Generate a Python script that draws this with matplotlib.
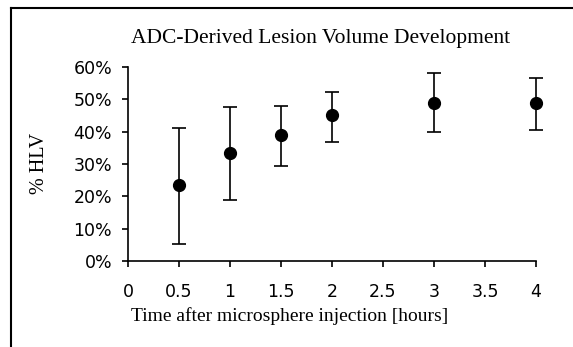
#importing required libraries
import matplotlib
matplotlib.use('Agg')
import matplotlib.pyplot as plt
from matplotlib.lines import Line2D
from matplotlib.ticker import FuncFormatter

plt.rcParams['font.family'] = ['Liberation Serif', 'DejaVu Serif']

#values
hours = [0.5, 1.0, 1.5, 2.0, 3.0, 4.0]
hlv_mean = [23.5, 33.4, 39.0, 45.3, 48.9, 48.9]
err_upper = [41.1, 47.5, 48.0, 52.4, 58.0, 56.6]
err_lower = [5.2, 18.9, 29.3, 36.9, 40.0, 40.6]
x_ticks = [0, 0.5, 1, 1.5, 2, 2.5, 3, 3.5, 4]
y_ticks = [0, 10, 20, 30, 40, 50, 60]

yerr = [[m - lo for m, lo in zip(hlv_mean, err_lower)],
        [hi - m for m, hi in zip(hlv_mean, err_upper)]]

W, H = 573, 347
fig = plt.figure(figsize=(W/100, H/100), dpi=100)
ax = fig.add_axes([128/W, 1 - 261/H, 408/W, 194/H])

#plotting the points with their error bars
eb = ax.errorbar(hours, hlv_mean, yerr=yerr, fmt='o', color='black',
                 markersize=8.5, ecolor='black', elinewidth=1.2,
                 capsize=4.8, capthick=1.2)
for art in ax.get_children():
    art.set_clip_on(False)

#axes setup
ax.set_xlim(0, 4)
ax.set_ylim(0, 60)
ax.set_xticks(x_ticks)
ax.set_xticklabels(['0', '0.5', '1', '1.5', '2', '2.5', '3', '3.5', '4'])
ax.set_yticks(y_ticks)
ax.yaxis.set_major_formatter(FuncFormatter(lambda v, p: '%d%%' % v))
for s in ['top', 'right']:
    ax.spines[s].set_visible(False)
for s in ['left', 'bottom']:
    ax.spines[s].set_linewidth(1.2)
    ax.spines[s].set_clip_on(False)
ax.tick_params(direction='out', length=4.5, width=1.2, labelsize=12.5)
ax.tick_params(axis='x', pad=11)
ax.tick_params(axis='y', pad=7)
for lbl in ax.get_xticklabels() + ax.get_yticklabels():
    lbl.set_family('DejaVu Sans')

#axis titles and chart title placed as in the reference
fig.text(290/W, 1 - 316/H, 'Time after microsphere injection [hours]',
         ha='center', va='center', fontsize=14)
fig.text(39/W, 1 - 163/H, '% HLV', ha='center', va='center',
         rotation=90, fontsize=14.5)
fig.text(321/W, 1 - 39/H, 'ADC-Derived Lesion Volume Development',
         ha='center', va='center', fontsize=15.5)

#outer frame (top and left edges only are visible)
fig.add_artist(Line2D([11/W, 1], [1 - 8/H, 1 - 8/H], color='black', lw=1.5,
                      transform=fig.transFigure))
fig.add_artist(Line2D([11/W, 11/W], [0, 1 - 8/H], color='black', lw=1.5,
                      transform=fig.transFigure))

#saving the generated plot
fig.savefig('out.png', dpi=100)
